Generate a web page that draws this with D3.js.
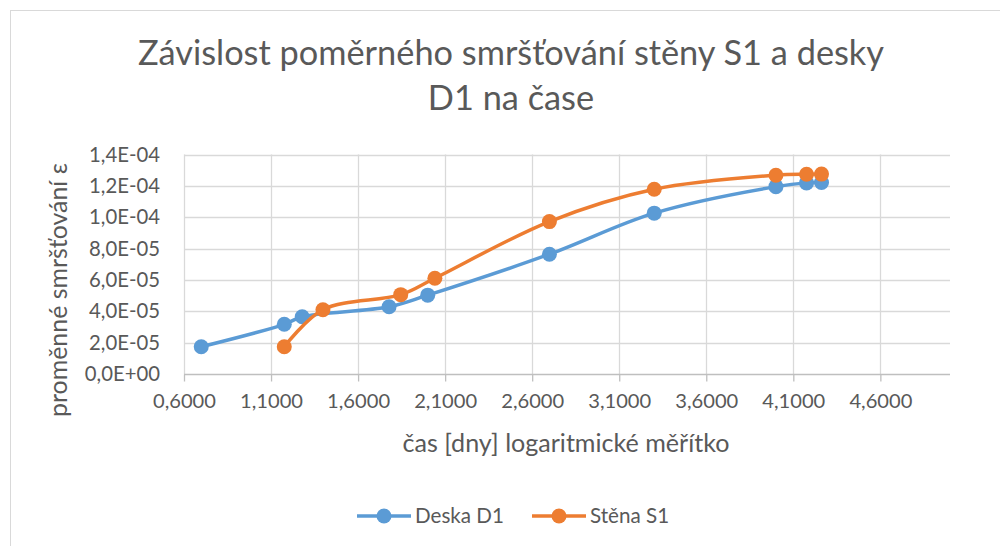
<!DOCTYPE html>
<html>
<head>
<meta charset="utf-8">
<script src="https://cdn.jsdelivr.net/npm/d3@7"></script>
<style>
  body { margin: 0; background: #fff; }
  svg { display: block; font-family: Lato, "Open Sans", sans-serif; }
</style>
</head>
<body>
<svg id="chart" width="1000" height="546"></svg>
<script>
// log10 of time in days
var deskaX = [0.699, 1.176, 1.279, 1.778, 2.000, 2.699, 3.301, 4.000, 4.176, 4.262];
var deskaY = [1.74e-5, 3.17e-5, 3.65e-5, 4.29e-5, 5.03e-5, 7.64e-5, 1.026e-4, 1.195e-4, 1.219e-4, 1.221e-4];
var stenaX = [1.176, 1.398, 1.845, 2.041, 2.699, 3.301, 4.000, 4.176, 4.262];
var stenaY = [1.74e-5, 4.10e-5, 5.06e-5, 6.11e-5, 9.72e-5, 1.178e-4, 1.268e-4, 1.274e-4, 1.275e-4];
var seriesNames = ["Deska D1", "Stěna S1"];
var seriesColors = ["#5b9bd5", "#ed7d31"];
var xTicks = [0.6, 1.1, 1.6, 2.1, 2.6, 3.1, 3.6, 4.1, 4.6];
var yTicks = [0, 2e-5, 4e-5, 6e-5, 8e-5, 1e-4, 1.2e-4, 1.4e-4];
var titleLines = ["Závislost poměrného smršťování stěny S1 a desky", "D1 na čase"];
var xTitle = "čas [dny] logaritmické měřítko";
var yTitle = "proměnné smršťování ε";

var svg = d3.select("#chart");
var textColor = "#595959";

// chart area border (runs off the right and bottom edge)
svg.append("rect")
    .attr("x", 10.5).attr("y", 10.5)
    .attr("width", 1000).attr("height", 600)
    .attr("fill", "none")
    .attr("stroke", "#d9d9d9");

var x = d3.scaleLinear().domain([0.6, 5.0]).range([184, 950]);
var y = d3.scaleLinear().domain([0, 1.4e-4]).range([374, 154.5]);

function fmtX(d) { return d3.format(".4f")(d).replace(".", ","); }
function fmtY(d) {
  if (d === 0) return "0,0E+00";
  var e = Math.floor(Math.log10(d) + 1e-9);
  var m = d / Math.pow(10, e);
  var es = (e < 0 ? "-" : "+") + (Math.abs(e) < 10 ? "0" : "") + Math.abs(e);
  return m.toFixed(1).replace(".", ",") + "E" + es;
}

// font size that gives a text the width it has in the picture
function fitSize(sel, w) {
  var fs = parseFloat(sel.attr("font-size"));
  return fs * w / sel.node().getComputedTextLength();
}

// gridlines
svg.append("g").selectAll("line")
  .data(yTicks.slice(1))
  .enter().append("line")
    .attr("x1", x.range()[0]).attr("x2", x.range()[1])
    .attr("y1", function(d) { return Math.round(y(d)) + 0.5; })
    .attr("y2", function(d) { return Math.round(y(d)) + 0.5; })
    .attr("stroke", "#d9d9d9").attr("stroke-width", 1.3);
svg.append("g").selectAll("line")
  .data(xTicks)
  .enter().append("line")
    .attr("x1", function(d) { return Math.round(x(d)) + 0.5; })
    .attr("x2", function(d) { return Math.round(x(d)) + 0.5; })
    .attr("y1", y.range()[1]).attr("y2", y.range()[0])
    .attr("stroke", "#d9d9d9").attr("stroke-width", 1.3);

// x axis
var xAxis = svg.append("g")
    .attr("transform", "translate(0," + (Math.round(y(0)) + 0.5) + ")")
    .call(d3.axisBottom(x).tickValues(xTicks).tickFormat(fmtX).tickSize(7).tickPadding(12));
xAxis.select(".domain").attr("stroke", "#bfbfbf").attr("stroke-width", 1.3)
    .attr("d", "M" + x.range()[0] + ",0H" + x.range()[1]);
xAxis.selectAll(".tick line").attr("stroke", "#bfbfbf").attr("stroke-width", 1.3);
var xLab = xAxis.selectAll("text").attr("fill", textColor).attr("font-size", 18)
    .attr("font-family", "Lato, 'Open Sans', sans-serif");
xLab.attr("font-size", fitSize(d3.select(xLab.node()), 63).toFixed(2));

// y axis (labels only)
var yAxis = svg.append("g")
    .attr("transform", "translate(" + x.range()[0] + ",0)")
    .call(d3.axisLeft(y).tickValues(yTicks).tickFormat(fmtY).tickSize(0).tickPadding(24));
yAxis.select(".domain").remove();
var yLab = yAxis.selectAll("text").attr("fill", textColor).attr("font-size", 18)
    .attr("font-family", "Lato, 'Open Sans', sans-serif");
yLab.attr("font-size", fitSize(d3.select(yLab.nodes()[7]), 71).toFixed(2));

// titles
var titles = svg.append("g").selectAll("text")
  .data(titleLines)
  .enter().append("text")
    .attr("x", 511)
    .attr("y", function(d, i) { return 65 + i * 45; })
    .attr("text-anchor", "middle")
    .attr("fill", textColor)
    .attr("font-size", 30)
    .text(function(d) { return d; });
titles.attr("font-size", fitSize(d3.select(titles.node()), 746).toFixed(2));

var xt = svg.append("text")
    .attr("x", 566).attr("y", 452)
    .attr("text-anchor", "middle")
    .attr("fill", textColor).attr("font-size", 20)
    .text(xTitle);
xt.attr("font-size", fitSize(xt, 327).toFixed(2));

var yt = svg.append("text")
    .attr("transform", "translate(67,290) rotate(-90)")
    .attr("text-anchor", "middle")
    .attr("fill", textColor).attr("font-size", 20)
    .text(yTitle);
yt.attr("font-size", fitSize(yt, 254).toFixed(2));

// series
var series = [
  { name: seriesNames[0], color: seriesColors[0], pts: d3.zip(deskaX, deskaY) },
  { name: seriesNames[1], color: seriesColors[1], pts: d3.zip(stenaX, stenaY) }
];

var line = d3.line()
    .x(function(d) { return x(d[0]); })
    .y(function(d) { return y(d[1]); })
    .curve(d3.curveCatmullRom.alpha(0.5));

series.forEach(function(s) {
  var g = svg.append("g");
  g.append("path")
      .attr("d", line(s.pts))
      .attr("fill", "none")
      .attr("stroke", s.color)
      .attr("stroke-width", 3.5)
      .attr("stroke-linecap", "round");
  g.selectAll("circle")
    .data(s.pts)
    .enter().append("circle")
      .attr("cx", function(d) { return x(d[0]); })
      .attr("cy", function(d) { return y(d[1]); })
      .attr("r", 7.5)
      .attr("fill", s.color);
});

// legend
var legendX = [357, 532];
var legend = svg.append("g").selectAll("g")
  .data(series)
  .enter().append("g")
    .attr("transform", function(d, i) { return "translate(" + legendX[i] + ",516)"; });
legend.append("line")
    .attr("x1", 0).attr("x2", 54)
    .attr("stroke", function(d) { return d.color; })
    .attr("stroke-width", 3.5);
legend.append("circle")
    .attr("cx", 27).attr("r", 7.5)
    .attr("fill", function(d) { return d.color; });
var legText = legend.append("text")
    .attr("x", 58).attr("y", 6.5)
    .attr("fill", textColor).attr("font-size", 19)
    .text(function(d) { return d.name; });
legText.attr("font-size", fitSize(d3.select(legText.node()), 89).toFixed(2));
</script>
</body>
</html>
